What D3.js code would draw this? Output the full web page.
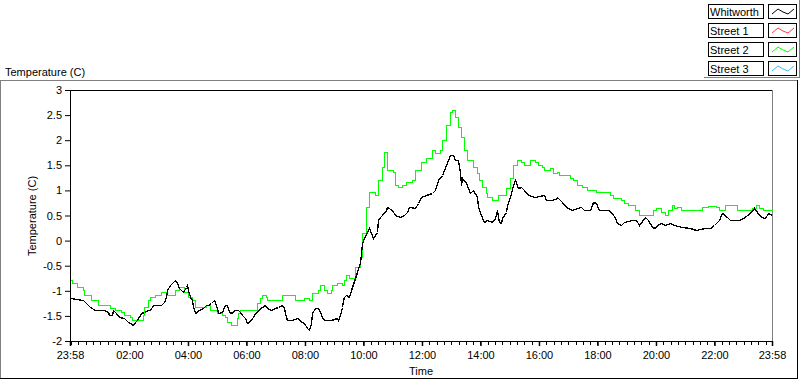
<!DOCTYPE html>
<html>
<head>
<meta charset="utf-8">
<script src="https://cdn.jsdelivr.net/npm/d3@7"></script>
<style>
  html, body { margin: 0; padding: 0; background: #fff; }
  svg { display: block; font-family: "Liberation Sans", Arial, sans-serif; font-size: 11px; }
</style>
</head>
<body>
<svg id="chart" width="800" height="380"></svg>
<script>
// ---------------- data ----------------
const seriesNames = ["Whitworth", "Street 1", "Street 2", "Street 3"];
const seriesColors = ["#000000", "#ff3b3b", "#00ff00", "#33bbff"];
const yTickValues = [-2, -1.5, -1, -0.5, 0, 0.5, 1, 1.5, 2, 2.5, 3];
const xTickLabels = ["23:58", "02:00", "04:00", "06:00", "08:00", "10:00", "12:00", "14:00", "16:00", "18:00", "20:00", "22:00", "23:58"];

// minutes after 23:58
const whitworthMinutes = [2,27,33,43,53,70,78,82,88,90,96,101,111,121,125,131,135,139,146,152,160,166,172,187,193,197,201,207,213,217,220,224,232,238,242,244,248,252,254,258,265,273,279,285,291,297,302,304,312,318,324,328,334,338,345,349,353,359,365,373,379,386,394,400,406,414,421,427,435,441,445,447,457,466,476,482,488,492,496,498,503,509,513,517,523,537,548,550,554,558,560,564,568,574,578,585,595,601,605,611,615,622,630,632,636,642,650,652,661,667,677,687,693,697,708,714,722,732,743,749,755,765,769,773,780,786,790,796,800,804,806,814,821,827,835,837,845,851,857,866,872,876,882,886,888,896,898,903,909,913,919,927,933,940,954,974,978,989,999,1001,1011,1019,1030,1040,1050,1056,1067,1071,1073,1081,1087,1104,1112,1118,1124,1132,1138,1153,1163,1169,1180,1186,1194,1200,1206,1214,1221,1231,1241,1257,1272,1286,1303,1313,1323,1333,1339,1348,1354,1374,1381,1395,1405,1411,1419,1426,1432,1440];
const whitworthTemp = [-1.16,-1.20,-1.26,-1.34,-1.40,-1.40,-1.44,-1.50,-1.50,-1.40,-1.46,-1.54,-1.56,-1.64,-1.66,-1.70,-1.64,-1.60,-1.46,-1.44,-1.40,-1.40,-1.30,-1.30,-1.24,-1.14,-1.00,-0.90,-0.84,-0.80,-0.86,-0.96,-1.04,-0.94,-0.90,-1.00,-1.14,-1.20,-1.32,-1.46,-1.40,-1.36,-1.30,-1.30,-1.26,-1.20,-1.36,-1.46,-1.44,-1.30,-1.30,-1.44,-1.46,-1.40,-1.40,-1.44,-1.50,-1.56,-1.66,-1.60,-1.50,-1.40,-1.34,-1.30,-1.36,-1.40,-1.36,-1.34,-1.30,-1.36,-1.54,-1.60,-1.60,-1.56,-1.64,-1.66,-1.76,-1.80,-1.66,-1.46,-1.36,-1.36,-1.44,-1.54,-1.60,-1.60,-1.56,-1.60,-1.50,-1.34,-1.20,-1.14,-1.10,-1.14,-1.00,-0.76,-0.46,-0.06,0.04,0.16,0.24,0.04,0.16,0.40,0.46,0.50,0.60,0.66,0.60,0.50,0.46,0.50,0.56,0.66,0.64,0.74,0.86,0.90,0.94,1.00,1.20,1.30,1.40,1.50,1.70,1.70,1.60,1.60,1.36,1.10,1.24,1.14,0.94,1.00,0.86,0.66,0.50,0.36,0.40,0.36,0.44,0.60,0.36,0.34,0.44,0.56,0.70,0.86,1.10,1.20,1.04,1.06,1.00,0.90,0.86,0.90,0.80,0.80,0.84,0.86,0.76,0.66,0.60,0.64,0.66,0.60,0.60,0.70,0.76,0.74,0.60,0.60,0.54,0.44,0.34,0.30,0.36,0.40,0.40,0.30,0.46,0.40,0.26,0.24,0.30,0.34,0.30,0.34,0.30,0.26,0.24,0.20,0.24,0.24,0.30,0.40,0.54,0.46,0.40,0.40,0.44,0.54,0.64,0.56,0.46,0.44,0.54,0.50];

const street1Minutes = [];
const street1Temp = [];

const street2Minutes = [2,6,16,27,29,43,45,57,59,80,84,94,105,111,125,129,139,150,152,160,166,176,187,197,203,217,224,234,244,252,258,265,279,289,297,302,312,318,324,332,338,343,345,349,375,384,390,394,404,406,431,435,457,462,482,492,498,509,513,523,529,537,539,548,558,564,568,574,585,595,601,609,615,622,626,632,640,646,652,663,667,673,683,691,702,708,722,732,743,749,759,765,773,780,784,790,796,804,810,816,827,835,841,847,855,857,866,876,878,888,896,903,909,917,927,933,944,954,960,970,974,985,991,999,1005,1019,1026,1032,1042,1052,1061,1073,1081,1102,1108,1114,1132,1138,1145,1159,1169,1186,1196,1204,1214,1221,1227,1235,1241,1247,1255,1296,1298,1309,1327,1333,1344,1364,1370,1391,1399,1409,1415,1422,1440];
const street2Temp = [-0.80,-0.86,-0.94,-1.00,-1.10,-1.10,-1.20,-1.20,-1.30,-1.30,-1.36,-1.40,-1.44,-1.50,-1.54,-1.60,-1.60,-1.50,-1.34,-1.20,-1.14,-1.10,-1.04,-1.10,-1.10,-1.00,-0.94,-1.04,-1.14,-1.20,-1.34,-1.34,-1.30,-1.40,-1.40,-1.46,-1.50,-1.54,-1.64,-1.70,-1.70,-1.56,-1.46,-1.40,-1.40,-1.26,-1.16,-1.10,-1.14,-1.20,-1.20,-1.10,-1.10,-1.20,-1.16,-1.20,-1.06,-1.00,-0.90,-1.00,-1.06,-1.00,-0.90,-0.86,-0.90,-0.80,-0.70,-0.76,-0.54,-0.34,0.14,0.66,0.96,0.96,0.90,1.20,1.46,1.76,1.40,1.36,1.10,1.06,1.10,1.16,1.20,1.40,1.56,1.64,1.80,1.74,1.80,2.00,2.30,2.56,2.60,2.46,2.26,2.06,1.80,1.60,1.46,1.34,1.20,1.06,0.94,0.86,0.80,0.80,0.90,0.90,1.04,1.24,1.50,1.60,1.56,1.50,1.60,1.56,1.50,1.46,1.40,1.44,1.34,1.36,1.30,1.30,1.24,1.20,1.10,1.06,1.00,1.00,0.96,0.96,0.90,0.84,0.80,0.74,0.70,0.60,0.50,0.50,0.60,0.64,0.56,0.50,0.60,0.70,0.64,0.66,0.60,0.60,0.66,0.68,0.66,0.60,0.70,0.70,0.60,0.60,0.64,0.70,0.64,0.60,0.58];

const street3Minutes = [];
const street3Temp = [];

// ---------------- drawing ----------------
const svg = d3.select("#chart");
const start = new Date(2000, 0, 1, 23, 58);
const end = new Date(2000, 0, 2, 23, 58);
const toDate = m => new Date(start.getTime() + m * 60000);

const x = d3.scaleTime().domain([start, end]).range([70, 772]);
const y = d3.scaleLinear().domain([-2, 3]).range([341, 90]);
const snap = v => Math.round(v - 0.5) + 0.5;

// outer panel frame
svg.append("line").attr("x1", 0).attr("x2", 798).attr("y1", 80.5).attr("y2", 80.5).attr("stroke", "#808080");
svg.append("line").attr("x1", 0.5).attr("x2", 0.5).attr("y1", 80).attr("y2", 379).attr("stroke", "#808080");
svg.append("line").attr("x1", 0).attr("x2", 798).attr("y1", 378.5).attr("y2", 378.5).attr("stroke", "#000");
svg.append("line").attr("x1", 797.5).attr("x2", 797.5).attr("y1", 80).attr("y2", 379).attr("stroke", "#000");

svg.append("text").attr("x", 5).attr("y", 76).attr("fill", "#000").text("Temperature (C)");

// plot frame (top and right)
svg.append("line").attr("x1", 70).attr("x2", 772).attr("y1", 90.5).attr("y2", 90.5).attr("stroke", "#000");
svg.append("line").attr("x1", 772.5).attr("x2", 772.5).attr("y1", 90).attr("y2", 341).attr("stroke", "#808080");

// series lines
const seriesData = [
  whitworthMinutes.map((m, i) => [toDate(m), whitworthTemp[i]]),
  street1Minutes.map((m, i) => [toDate(m), street1Temp[i]]),
  street2Minutes.map((m, i) => [toDate(m), street2Temp[i]]),
  street3Minutes.map((m, i) => [toDate(m), street3Temp[i]])
];
const curves = [d3.curveLinear, d3.curveLinear, d3.curveStepAfter, d3.curveLinear];
[2, 1, 3, 0].forEach(i => {
  if (!seriesData[i].length) return;
  const line = d3.line().x(d => snap(x(d[0]))).y(d => snap(y(d[1]))).curve(curves[i]);
  svg.append("path").datum(seriesData[i])
    .attr("d", line).attr("fill", "none")
    .attr("stroke", seriesColors[i]).attr("stroke-width", i === 0 ? 1.3 : 1)
    .attr("shape-rendering", "crispEdges");
});

// y axis
const yAxis = d3.axisLeft(y).tickValues(yTickValues).tickSize(5).tickPadding(3).tickFormat(d => String(d));
const gy = svg.append("g").attr("transform", "translate(70,0)").call(yAxis);
gy.select(".domain").attr("stroke", "#000");
gy.selectAll("text").attr("font-family", "Liberation Sans, Arial, sans-serif").attr("font-size", 11).attr("fill", "#000");

// x axis: major ticks with labels
const majorTicks = [start].concat(d3.range(1, 12).map(k => new Date(2000, 0, 2, 2 * k, 0)), [end]);
const xAxis = d3.axisBottom(x).tickValues(majorTicks).tickSize(5).tickPadding(5)
  .tickFormat((d, i) => xTickLabels[i]);
const gx = svg.append("g").attr("transform", "translate(0,341)").call(xAxis);
gx.select(".domain").attr("stroke", "#000");
gx.selectAll(".tick line").attr("stroke-width", 1.5);
gx.selectAll("text").attr("font-family", "Liberation Sans, Arial, sans-serif").attr("font-size", 11).attr("fill", "#000");

// minor ticks every 15 minutes
const minorTicks = d3.timeMinute.every(15).range(new Date(2000, 0, 2, 0, 0), end);
svg.append("g").attr("transform", "translate(0,341)")
  .selectAll("line").data(minorTicks).join("line")
  .attr("x1", d => Math.round(x(d)) + 0.5).attr("x2", d => Math.round(x(d)) + 0.5)
  .attr("y1", 0).attr("y2", 4).attr("stroke", "#000");

// axis titles
svg.append("text").attr("transform", "translate(36,216) rotate(-90)")
  .attr("text-anchor", "middle").attr("fill", "#000").text("Temperature (C)");
svg.append("text").attr("x", 421).attr("y", 375).attr("text-anchor", "middle").attr("fill", "#000").text("Time");

// legend
const legend = svg.append("g");
seriesNames.forEach((name, i) => {
  const top = Math.round(4 + i * 19.1);
  legend.append("rect").attr("x", 708.5).attr("y", top + 0.5).attr("width", 55).attr("height", 14)
    .attr("fill", "#fff").attr("stroke", "#000");
  legend.append("text").attr("x", 710).attr("y", top + 12).attr("fill", "#000").text(name);
  legend.append("rect").attr("x", 768.5).attr("y", top + 0.5).attr("width", 28).attr("height", 14)
    .attr("fill", "#fff").attr("stroke", "#000");
  const pts = [[3, 10], [9, 5], [14, 8], [19, 10], [25, 5]].map(p => [769 + p[0], top + p[1]]);
  legend.append("path").attr("d", d3.line()(pts)).attr("fill", "none").attr("stroke", seriesColors[i]);
});
legend.append("line").attr("x1", 799.5).attr("x2", 799.5).attr("y1", 0).attr("y2", 78).attr("stroke", "#808080");
legend.append("line").attr("x1", 704).attr("x2", 800).attr("y1", 77.5).attr("y2", 77.5).attr("stroke", "#808080");
</script>
</body>
</html>
